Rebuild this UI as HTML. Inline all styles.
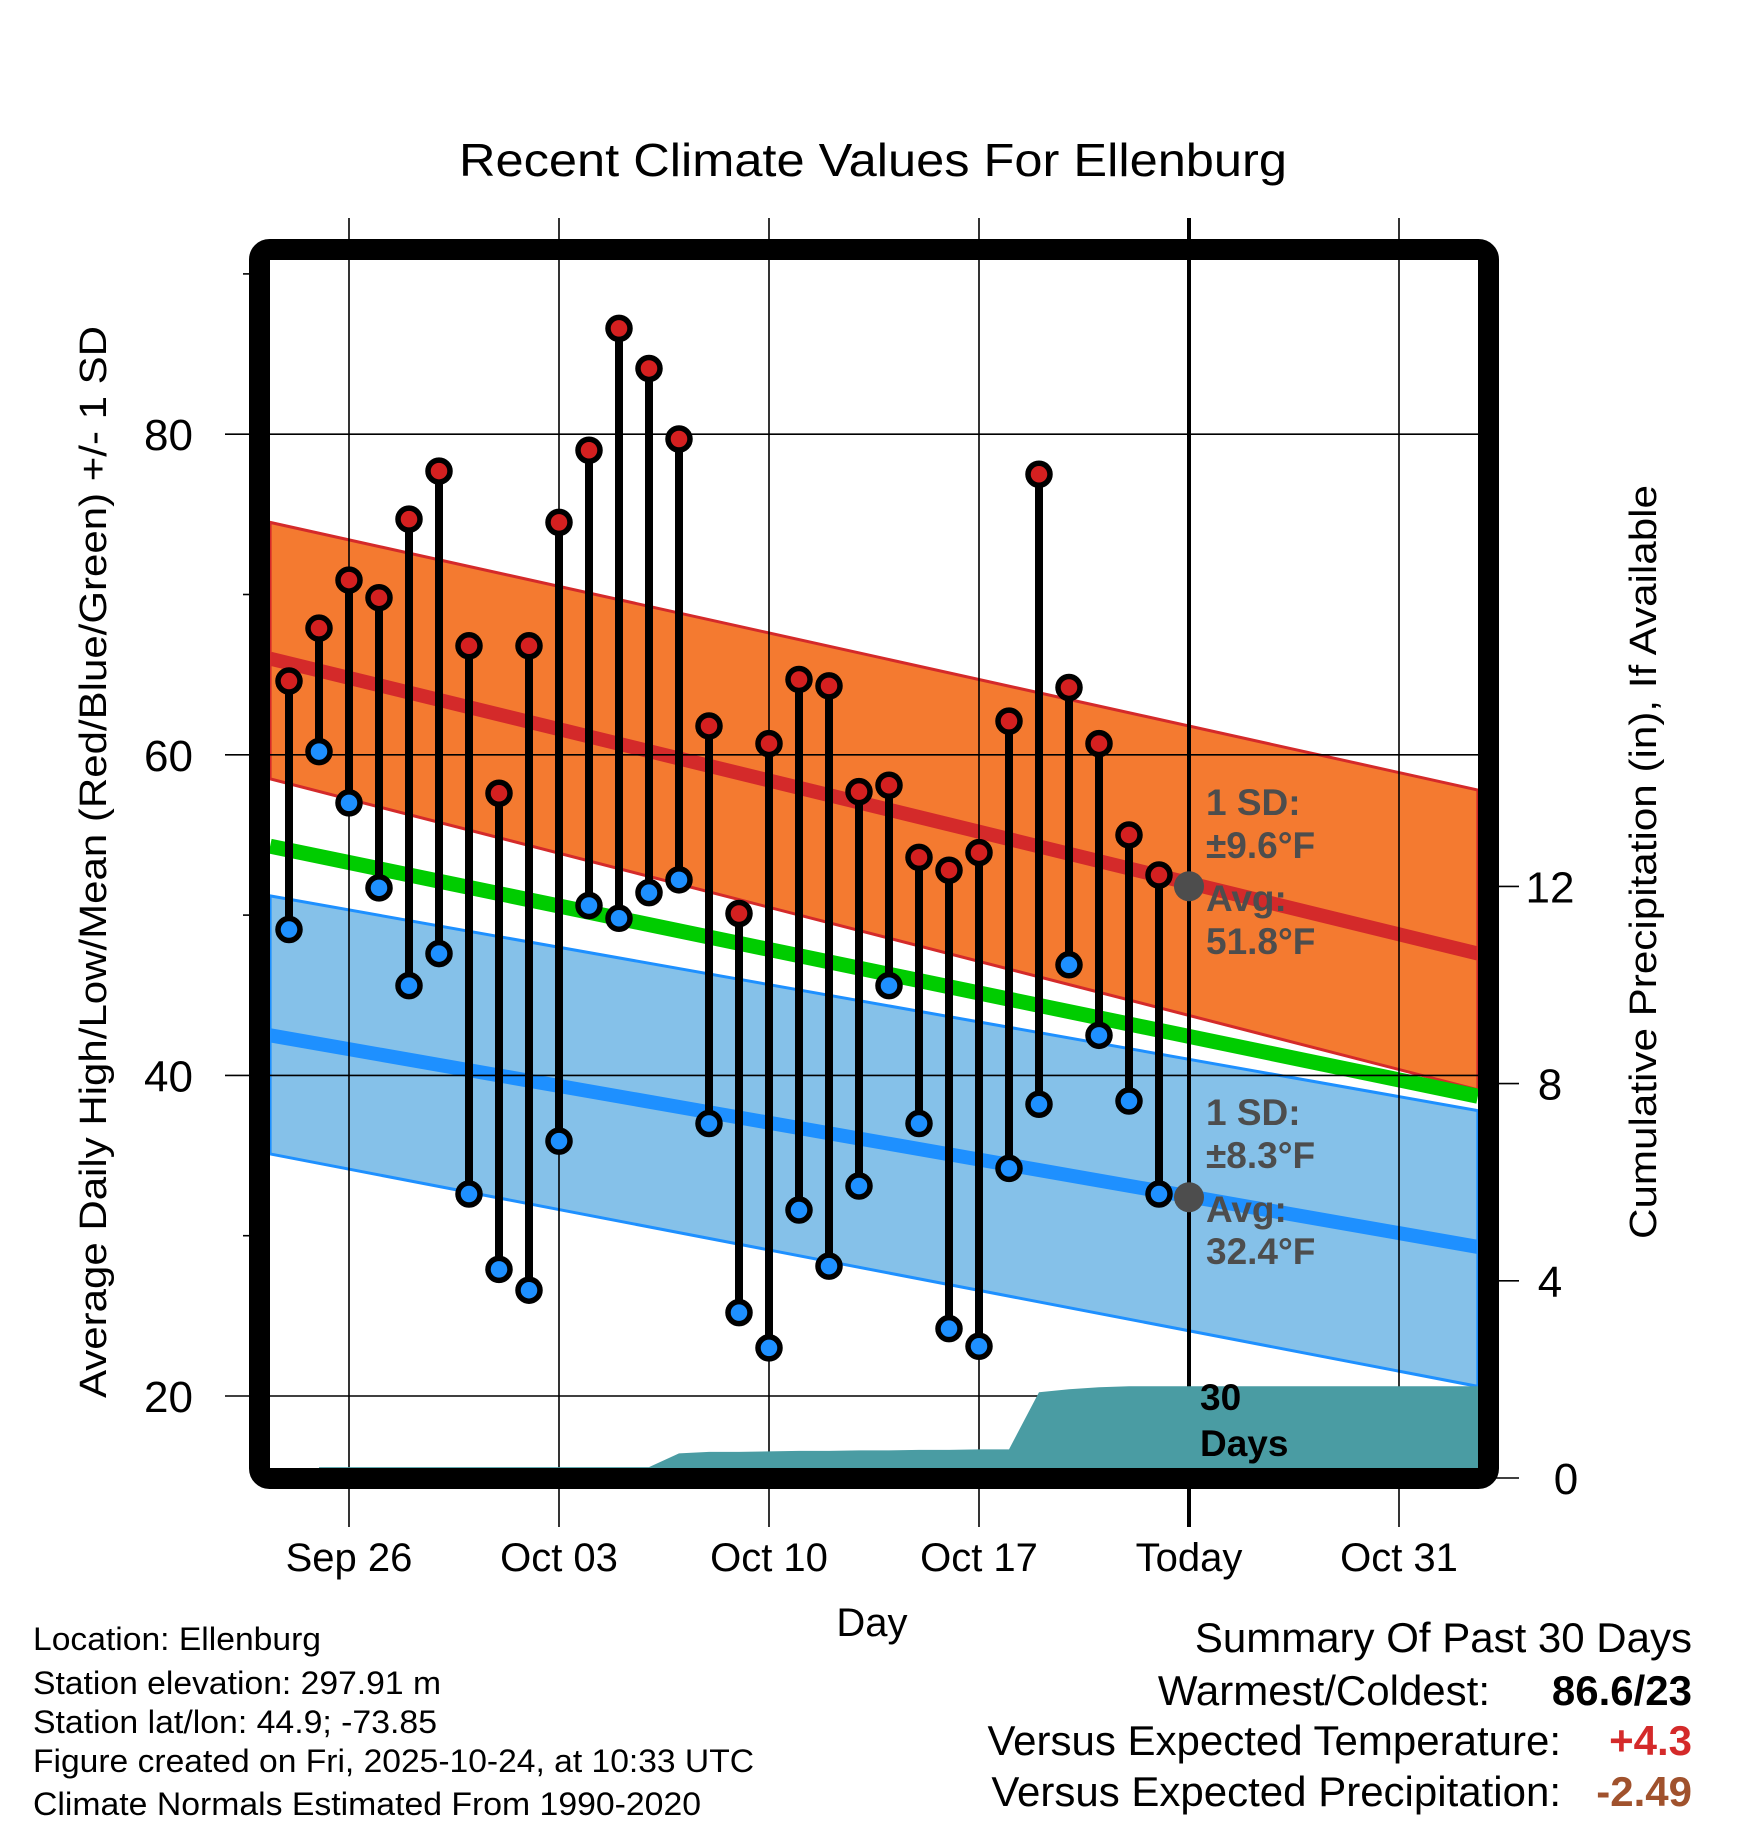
<!DOCTYPE html>
<html><head><meta charset="utf-8"><style>
html,body{margin:0;padding:0;background:#fff;}
svg{display:block;font-family:"Liberation Sans",sans-serif;}
</style></head><body>
<svg id="chart" width="1748" height="1828" viewBox="0 0 1748 1828" xmlns="http://www.w3.org/2000/svg">
<text x="873" y="176" font-size="46" text-anchor="middle" textLength="828" lengthAdjust="spacingAndGlyphs">Recent Climate Values For Ellenburg</text>
<g id="bands"></g>
<g id="grid"></g>
<g id="precip"></g>
<g id="marks"></g>
<g id="annot" font-weight="bold" fill="#4d4d4d" font-size="37">
<text x="1206" y="815">1 SD:</text>
<text x="1206" y="858">±9.6°F</text>
<text x="1206" y="911">Avg:</text>
<text x="1206" y="954">51.8°F</text>
<text x="1206" y="1125">1 SD:</text>
<text x="1206" y="1168">±8.3°F</text>
<text x="1206" y="1222">Avg:</text>
<text x="1206" y="1264">32.4°F</text>
<text x="1200" y="1410" fill="#000">30</text>
<text x="1200" y="1456" fill="#000">Days</text>
</g>
<rect x="259.5" y="249.5" width="1229" height="1229" fill="none" stroke="#000" stroke-width="21" rx="10"/>
<g id="axes"></g>
<text x="872" y="1636" font-size="40" text-anchor="middle">Day</text>
<text transform="translate(106,862) rotate(-90)" font-size="38" text-anchor="middle" textLength="1072" lengthAdjust="spacingAndGlyphs">Average Daily High/Low/Mean (Red/Blue/Green) +/- 1 SD</text>
<text transform="translate(1656,862) rotate(-90)" font-size="38" text-anchor="middle" textLength="754" lengthAdjust="spacingAndGlyphs">Cumulative Precipitation (in), If Available</text>
<g font-size="32">
<text x="33" y="1650" textLength="288" lengthAdjust="spacingAndGlyphs">Location: Ellenburg</text>
<text x="33" y="1694" textLength="408" lengthAdjust="spacingAndGlyphs">Station elevation: 297.91 m</text>
<text x="33" y="1733" textLength="404" lengthAdjust="spacingAndGlyphs">Station lat/lon: 44.9; -73.85</text>
<text x="33" y="1772" textLength="721" lengthAdjust="spacingAndGlyphs">Figure created on Fri, 2025-10-24, at 10:33 UTC</text>
<text x="33" y="1815" textLength="668" lengthAdjust="spacingAndGlyphs">Climate Normals Estimated From 1990-2020</text>
</g>
<g font-size="42" text-anchor="end">
<text x="1692" y="1652">Summary Of Past 30 Days</text>
<text x="1490" y="1705">Warmest/Coldest:</text>
<text x="1692" y="1705" font-weight="bold">86.6/23</text>
<text x="1561" y="1755">Versus Expected Temperature:</text>
<text x="1692" y="1755" font-weight="bold" fill="#d42a2a">+4.3</text>
<text x="1561" y="1806">Versus Expected Precipitation:</text>
<text x="1692" y="1806" font-weight="bold" fill="#a0522d">-2.49</text>
</g>
</svg>
<script>
// day offsets relative to Sep 26
const days = [-2,-1,0,1,2,3,4,5,6,7,8,9,10,11,12,13,14,15,16,17,18,19,20,21,22,23,24,25,26,27];
const highs = [64.6,67.9,70.9,69.8,74.7,77.7,66.8,57.6,66.8,74.5,79.0,86.6,84.1,79.7,61.8,50.1,60.7,64.7,64.3,57.7,58.1,53.6,52.8,53.9,62.1,77.5,64.2,60.7,55.0,52.5];
const lows = [49.1,60.2,57.0,51.7,45.6,47.6,32.6,27.9,26.6,35.9,50.6,49.8,51.4,52.2,37.0,25.2,23.0,31.6,28.1,33.1,45.6,37.0,24.2,23.1,34.2,38.2,46.9,42.5,38.4,32.6];
const precip = [0.22,0.22,0.22,0.22,0.22,0.22,0.22,0.22,0.22,0.22,0.22,0.22,0.22,0.5,0.53,0.53,0.54,0.55,0.55,0.56,0.56,0.57,0.57,0.58,0.58,1.74,1.80,1.84,1.86,1.86];
// normals at plot edges (day offsets)
const normDays = [-2.63, 37.63];
const normHigh = [66.0, 47.6];
const normHighUp = [74.5, 57.8];
const normHighLo = [58.5, 39.1];
const normMean = [54.3, 38.7];
const normLow = [42.5, 29.3];
const normLowUp = [51.2, 37.8];
const normLowLo = [35.1, 20.6];
const xTickDays = [0,7,14,21,28,35];
const xTickLabels = ["Sep 26","Oct 03","Oct 10","Oct 17","Today","Oct 31"];
const yTicks = [20,40,60,80];
const yMinor = [30,50,70,90];
const y2Ticks = [0,4,8,12];
const todayDay = 28;
const todayHigh = 51.8, todayLow = 32.4;

const NS="http://www.w3.org/2000/svg";
const X = d => 349 + d*30.0;
const Y = t => 1396 - (t-20)*16.03;
const YP = p => 1478 - p*49.3;
const L=270,R=1478,T=260,B=1468;
function mk(tag, parent, attrs){const e=document.createElementNS(NS,tag);for(const k in attrs)e.setAttribute(k,attrs[k]);parent.appendChild(e);return e;}
const bands=document.getElementById('bands'), grid=document.getElementById('grid'), pr=document.getElementById('precip'), marks=document.getElementById('marks'), axes=document.getElementById('axes');
function band(up,lo,fill,stroke,name){
  const pts=[[X(normDays[0]),Y(up[0])],[X(normDays[1]),Y(up[1])],[X(normDays[1]),Y(lo[1])],[X(normDays[0]),Y(lo[0])]];
  const p=mk('polygon',bands,{points:pts.map(q=>q.join(',')).join(' '),fill:fill,stroke:stroke,'stroke-width':3});
  
  
}
function line(v,color,w,name){
  const l=mk('line',bands,{x1:X(normDays[0]),y1:Y(v[0]),x2:X(normDays[1]),y2:Y(v[1]),stroke:color,'stroke-width':w});
  
  
}
band(normHighUp,normHighLo,'#f47a30','#d42a2a','high-sd-band');
band(normLowUp,normLowLo,'#85c1e9','#1e90ff','low-sd-band');
line(normHigh,'#d42a2a',14,'normal-high-line');
line(normLow,'#1e90ff',14,'normal-low-line');
line(normMean,'#00cc00',15,'normal-mean-line');
// grid
xTickDays.forEach((d,i)=>{
  if(d===todayDay){
    const g=mk('line',grid,{x1:X(d),y1:218,x2:X(d),y2:1527,stroke:'#000','stroke-width':4});
    
    
  } else {
    const g=mk('line',grid,{x1:X(d),y1:218,x2:X(d),y2:1527,stroke:'#000','stroke-width':1.6});
    
    
  }
  const t=mk('text',axes,{x:X(d),y:1571,'font-size':40,'text-anchor':'middle'});
  t.textContent=xTickLabels[i];
  
  
});
yTicks.forEach(v=>{
  const g=mk('line',grid,{x1:225,y1:Y(v),x2:R,y2:Y(v),stroke:'#000','stroke-width':1.6});
  
  
  const t=mk('text',axes,{x:193,y:Y(v)+16,'font-size':44,'text-anchor':'end'});
  t.textContent=v;
  
  
});
yMinor.forEach(v=>{
  const g=mk('line',axes,{x1:243,y1:Y(v),x2:252,y2:Y(v),stroke:'#000','stroke-width':1.6});
  
  
});
y2Ticks.forEach(v=>{
  const g=mk('line',axes,{x1:1495,y1:YP(v),x2:1519,y2:YP(v),stroke:'#000','stroke-width':1.6});
  
  
  const t=mk('text',axes,{x:v===0?1566:1550,y:YP(v)+16,'font-size':44,'text-anchor':'middle'});
  t.textContent=v;
  
  
});
// precip
let pts=[[X(days[1]),B]];
days.forEach((d,i)=>{ if(i>0) pts.push([X(d),Math.min(B,YP(precip[i]))]); });
pts.push([R,Math.min(B,YP(precip[precip.length-1]))]);pts.push([R,B]);
const pa=mk('polygon',pr,{points:pts.map(q=>q.join(',')).join(' '),fill:'#4a9ca3'});


// today's normal dots
[todayHigh,todayLow].forEach((v,i)=>{
  const c=mk('circle',marks,{cx:X(todayDay),cy:Y(v),r:15,fill:'#4d4d4d'});
  
  
});
// stems and markers
days.forEach((d,i)=>{
  const s=mk('line',marks,{x1:X(d),y1:Y(highs[i]),x2:X(d),y2:Y(lows[i]),stroke:'#000','stroke-width':8});
  
  
});
days.forEach((d,i)=>{
  const h=mk('circle',marks,{cx:X(d),cy:Y(highs[i]),r:11,fill:'#d42020',stroke:'#000','stroke-width':5.5});
  
  
  const l=mk('circle',marks,{cx:X(d),cy:Y(lows[i]),r:11,fill:'#1e90ff',stroke:'#000','stroke-width':5.5});
  
  
});
</script>
</body></html>
